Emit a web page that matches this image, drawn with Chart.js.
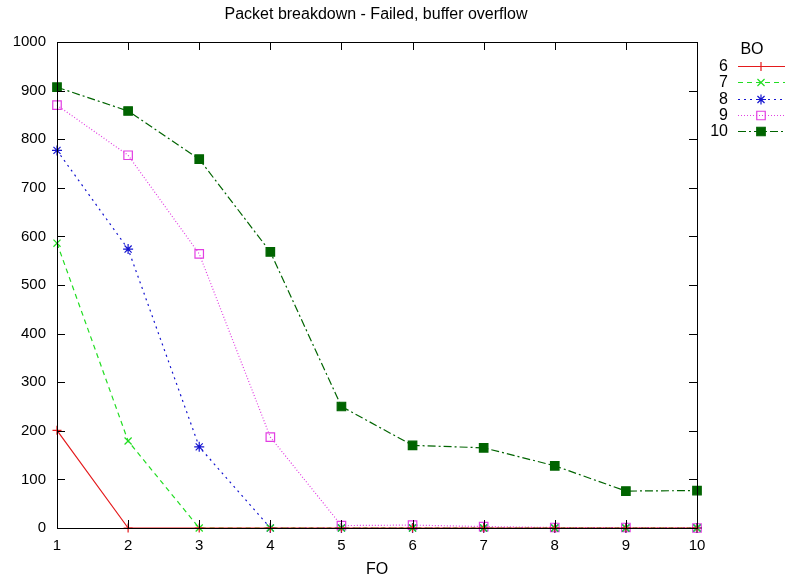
<!DOCTYPE html>
<html>
<head>
<meta charset="utf-8">
<script src="https://cdn.jsdelivr.net/npm/chart.js@4/dist/chart.umd.min.js"></script>
<style>
  html, body { margin: 0; padding: 0; background: #fff; }
  #wrap { width: 787px; height: 582px; }
</style>
</head>
<body>
<div id="wrap"><canvas id="grafico" width="787" height="582"></canvas></div>
<script>
// valores por serie (BO), eje x = FO
const fo = [1, 2, 3, 4, 5, 6, 7, 8, 9, 10];
const bo6 = [201, 0, 0, 0, 0, 0, 0, 0, 0, 0];
const bo7 = [586, 179, 0, 0, 0, 0, 0, 0, 0, 0];
const bo8 = [777, 574, 167, 0, 0, 0, 0, 0, 0, 0];
const bo9 = [870, 767, 564, 187, 5, 6, 3, 1, 1, 0];
const bo10 = [907, 858, 759, 568, 250, 170, 165, 128, 76, 77];
const etiquetas = ["6", "7", "8", "9", "10"];
const yTicks = [0, 100, 200, 300, 400, 500, 600, 700, 800, 900, 1000];
const titulo = "Packet breakdown - Failed, buffer overflow";

const fuente = "'Liberation Sans', Arial, sans-serif";

const serie = (label, valores, color, dash, estilo, radio, relleno) => ({
  label,
  data: valores.map((v, i) => ({ x: fo[i], y: v })),
  borderColor: color,
  borderWidth: 1.2,
  borderDash: dash,
  pointStyle: estilo,
  pointRadius: radio,
  pointBorderColor: color,
  pointBackgroundColor: relleno,
  pointBorderWidth: 1.2,
  tension: 0,
  clip: false
});

const datasets = [
  serie(etiquetas[0], bo6, "#e41a1c", [], "cross", 4.5, "#e41a1c"),
  serie(etiquetas[1], bo7, "#22dd22", [5, 4], "crossRot", 5, "#22dd22"),
  serie(etiquetas[2], bo8, "#1515d0", [2, 4], "star", 5, "#1515d0"),
  serie(etiquetas[3], bo9, "#e23ee2", [1, 2], "rect", 6, "rgba(0,0,0,0)"),
  serie(etiquetas[4], bo10, "#006400", [8, 3, 2, 3], "rect", 6, "#006400")
];

// titulo centrado sobre el area, marco, marcas hacia adentro y leyenda
const marco = {
  id: "marco",
  afterDraw(chart) {
    const { ctx, chartArea: a, scales } = chart;
    ctx.save();
    ctx.fillStyle = "#000";
    ctx.font = "16px " + fuente;
    ctx.textAlign = "center";
    ctx.textBaseline = "middle";
    ctx.fillText(titulo, (a.left + a.right) / 2 - 1, 15);

    ctx.strokeStyle = "#000";
    ctx.lineWidth = 1;
    ctx.setLineDash([]);
    ctx.strokeRect(Math.round(a.left) + 0.5, Math.round(a.top) + 0.5,
      Math.round(a.right - a.left), Math.round(a.bottom - a.top));
    ctx.beginPath();
    yTicks.forEach(v => {
      const y = Math.round(scales.y.getPixelForValue(v)) + 0.5;
      ctx.moveTo(a.left, y); ctx.lineTo(a.left + 8, y);
      ctx.moveTo(a.right, y); ctx.lineTo(a.right - 8, y);
    });
    fo.forEach(v => {
      const x = Math.round(scales.x.getPixelForValue(v)) + 0.5;
      ctx.moveTo(x, a.bottom); ctx.lineTo(x, a.bottom - 8);
      ctx.moveTo(x, a.top); ctx.lineTo(x, a.top + 8);
    });
    ctx.stroke();

    // leyenda
    ctx.fillText("BO", 752, 50);
    chart.data.datasets.forEach((ds, i) => {
      const y = Math.round(66 + i * 16.3) + 0.5;
      ctx.fillStyle = "#000";
      ctx.textAlign = "right";
      ctx.fillText(ds.label, 728, y);
      ctx.strokeStyle = ds.borderColor;
      ctx.lineWidth = ds.borderWidth;
      ctx.setLineDash(ds.borderDash);
      ctx.beginPath();
      ctx.moveTo(738, y); ctx.lineTo(785, y);
      ctx.stroke();
      ctx.setLineDash([]);
      ctx.fillStyle = ds.pointBackgroundColor;
      ctx.strokeStyle = ds.pointBorderColor;
      Chart.helpers.drawPoint(ctx, {
        pointStyle: ds.pointStyle, radius: ds.pointRadius, rotation: 0, borderWidth: 1.2
      }, 761, y);
    });
    ctx.restore();
  }
};

new Chart(document.getElementById("grafico"), {
  type: "line",
  data: { datasets },
  options: {
    responsive: false,
    animation: false,
    layout: { padding: { left: 0, right: 90, top: 42, bottom: 0 } },
    plugins: {
      legend: { display: false },
      tooltip: { enabled: false },
      title: { display: false }
    },
    scales: {
      x: {
        type: "linear",
        min: 1,
        max: 10,
        afterFit: s => { s.height = 54; },
        grid: { display: false, drawTicks: false },
        border: { display: false },
        ticks: {
          stepSize: 1,
          padding: 9,
          color: "#000",
          font: { family: fuente, size: 15 }
        },
        title: {
          display: true,
          text: "FO",
          color: "#000",
          font: { family: fuente, size: 16 },
          padding: { top: 4, bottom: 3 }
        }
      },
      y: {
        min: 0,
        max: 1000,
        afterFit: s => { s.width = 57; },
        grid: { display: false, drawTicks: false },
        border: { display: false },
        ticks: {
          stepSize: 100,
          padding: 11,
          color: "#000",
          font: { family: fuente, size: 15 },
          callback: v => String(v)
        }
      }
    }
  },
  plugins: [marco]
});
</script>
</body>
</html>
